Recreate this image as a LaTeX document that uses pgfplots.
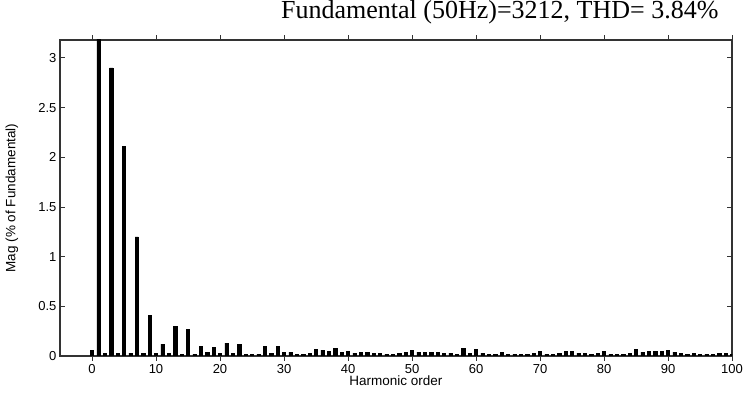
\documentclass[border=0pt]{standalone}
\usepackage{fontspec}
\setmainfont{Liberation Serif}
\setsansfont{Liberation Sans}
\usepackage{pgfplots}
\pgfplotsset{compat=1.18}
\usepackage{pgfplotstable}
\pgfplotstableread{
h v
0 0.06
1 100
2 0.03
3 2.90
4 0.03
5 2.11
6 0.03
7 1.20
8 0.03
9 0.41
10 0.03
11 0.12
12 0.03
13 0.30
14 0.02
15 0.27
16 0.02
17 0.10
18 0.04
19 0.09
20 0.03
21 0.13
22 0.03
23 0.12
24 0.02
25 0.02
26 0.02
27 0.10
28 0.03
29 0.10
30 0.04
31 0.04
32 0.02
33 0.02
34 0.03
35 0.07
36 0.06
37 0.05
38 0.08
39 0.04
40 0.05
41 0.03
42 0.04
43 0.04
44 0.03
45 0.03
46 0.02
47 0.02
48 0.03
49 0.04
50 0.06
51 0.04
52 0.04
53 0.04
54 0.04
55 0.03
56 0.03
57 0.02
58 0.08
59 0.03
60 0.07
61 0.03
62 0.02
63 0.02
64 0.04
65 0.02
66 0.02
67 0.02
68 0.02
69 0.03
70 0.05
71 0.02
72 0.02
73 0.03
74 0.05
75 0.05
76 0.03
77 0.03
78 0.02
79 0.03
80 0.05
81 0.02
82 0.02
83 0.02
84 0.03
85 0.07
86 0.04
87 0.05
88 0.05
89 0.05
90 0.06
91 0.04
92 0.03
93 0.02
94 0.03
95 0.02
96 0.02
97 0.02
98 0.03
99 0.03
100 0.02
}\harm
\begin{document}
\begin{tikzpicture}
\begin{axis}[
  name=ax,
  scale only axis,
  width=672pt, height=316pt,
  xmin=-5, xmax=100, ymin=0, ymax=3.18,
  xtick={0,10,...,100},
  ytick={0,0.5,1,1.5,2,2.5,3},
  yticklabels={0,0.5,1,1.5,2,2.5,3},
  /pgf/number format/assume math mode=true,
  tick label style={font=\sffamily\fontsize{13}{15}\selectfont},
  axis line style={black!80, line width=1.2pt},
  tick style={black!80, line width=0.8pt},
  major tick length=5pt,
  ybar, bar width=0.5, bar shift=0pt,
  clip=true,
]
\addplot[fill=black, draw=black, line width=0.3pt] table[x=h,y=v]{\harm};
\end{axis}
\node[anchor=base east, font=\fontsize{26}{29}\selectfont]
  at ([xshift=-10pt,yshift=21pt]ax.north east) {Fundamental (50Hz)=3212, THD= 3.84\%};
\node[anchor=center, font=\sffamily\fontsize{13.5}{15}\selectfont]
  at ([yshift=-25pt]ax.south) {Harmonic order};
\node[anchor=center, rotate=90, font=\sffamily\fontsize{13.5}{15}\selectfont]
  at ([xshift=-48pt]ax.west) {Mag (\% of Fundamental)};
\pgfresetboundingbox
\path[use as bounding box] ([xshift=-60pt,yshift=-39pt]ax.south west) rectangle ([xshift=12pt,yshift=40pt]ax.north east);
\end{tikzpicture}
\end{document}
